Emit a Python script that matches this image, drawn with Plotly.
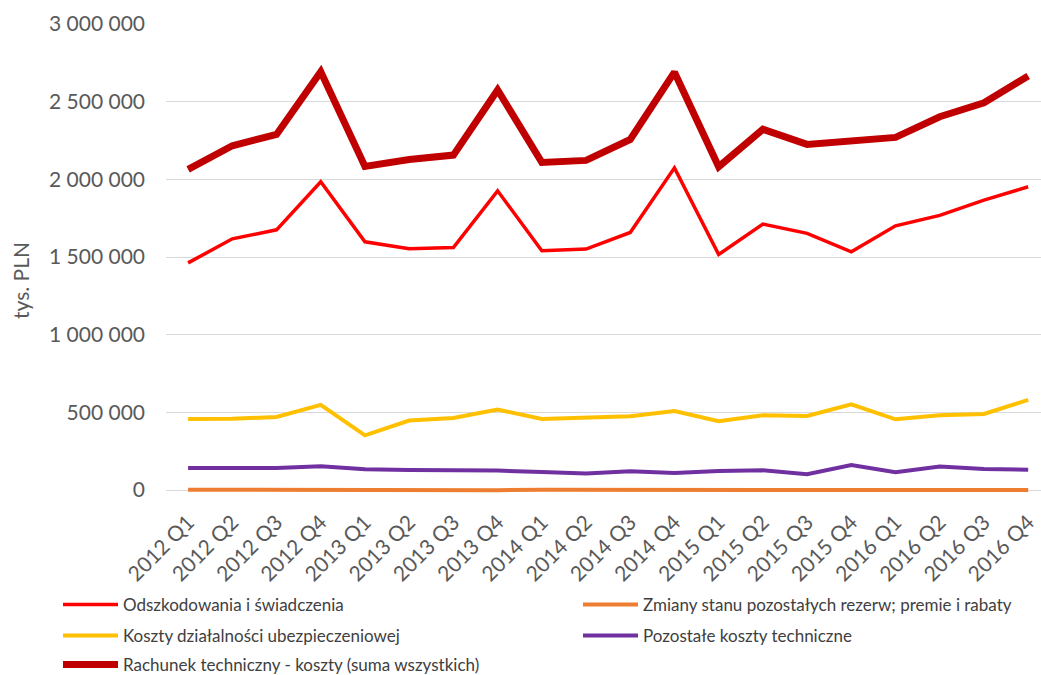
import plotly.graph_objects as go

categories = ["2012 Q1", "2012 Q2", "2012 Q3", "2012 Q4",
              "2013 Q1", "2013 Q2", "2013 Q3", "2013 Q4",
              "2014 Q1", "2014 Q2", "2014 Q3", "2014 Q4",
              "2015 Q1", "2015 Q2", "2015 Q3", "2015 Q4",
              "2016 Q1", "2016 Q2", "2016 Q3", "2016 Q4"]

odszkodowania = [1462000, 1617000, 1675000, 1984000,
                 1598000, 1553000, 1561000, 1926000,
                 1540000, 1551000, 1658000, 2074000,
                 1516000, 1712000, 1652000, 1533000,
                 1701000, 1768000, 1866000, 1952000]

zmiany = [2000, 1000, 1500, 2500,
          1000, 1500, 500, -1000,
          1000, 500, 1500, 1000,
          2000, -500, 500, 2500,
          -500, 1500, 1000, 500]

koszty_dzialalnosci = [457000, 458000, 470000, 548000,
                       352000, 447000, 464000, 518000,
                       457000, 468000, 475000, 509000,
                       443000, 481000, 477000, 552000,
                       455000, 481000, 490000, 580000]

pozostale = [142000, 145000, 142000, 153000,
             133000, 129000, 128000, 125000,
             116000, 106000, 120000, 110000,
             122000, 127000, 101000, 161000,
             114000, 151000, 135000, 131000]

rachunek = [2064000, 2216000, 2289000, 2693000,
            2083000, 2128000, 2156000, 2575000,
            2109000, 2122000, 2257000, 2690000,
            2081000, 2322000, 2225000, 2242000,
            2270000, 2403000, 2493000, 2665000]

# name, values, colour, width, legend id
series = [
    ("Odszkodowania i świadczenia", odszkodowania, "#FF0000", 3.5, "legend"),
    ("Zmiany stanu pozostałych rezerw; premie i rabaty", zmiany, "#ED7D31", 4, "legend2"),
    ("Koszty działalności ubezpieczeniowej", koszty_dzialalnosci, "#FFC000", 4, "legend3"),
    ("Pozostałe koszty techniczne", pozostale, "#7030A0", 4, "legend4"),
    ("Rachunek techniczny - koszty (suma wszystkich)", rachunek, "#C00000", 7, "legend5"),
]

fig = go.Figure()
for name, vals, color, w, lg in series:
    fig.add_trace(go.Scatter(
        x=list(range(len(categories))), y=vals, name=name, mode="lines",
        line=dict(color=color, width=w), hoverinfo="skip", legend=lg))

FONT = "Lato, 'Open Sans', sans-serif"
Y_MAX = 3000000
ZERO_PX, TOP_PX = 490, 24
PER_PX = Y_MAX / (ZERO_PX - TOP_PX)
PAD_PX = 3
PLOT_L, PLOT_R, PLOT_T, PLOT_B = 166, 1041, TOP_PX, ZERO_PX + PAD_PX
PW, PH = PLOT_R - PLOT_L, PLOT_B - PLOT_T


def px_x(x):
    return (x - PLOT_L) / PW


def px_y(y):
    return (PLOT_B - y) / PH


leg_font = dict(size=17, color="#404040", family=FONT)


def leg(x, y):
    return dict(x=px_x(x), y=px_y(y), xanchor="left", yanchor="middle",
                orientation="h", font=leg_font, bgcolor="rgba(0,0,0,0)", itemwidth=55)


fig.update_layout(
    width=1041, height=675,
    margin=dict(l=PLOT_L, r=0, t=PLOT_T, b=675 - PLOT_B, autoexpand=False),
    paper_bgcolor="white", plot_bgcolor="white",
    separators=", ",
    font=dict(family=FONT, color="#595959"),
    showlegend=True,
    legend=leg(58, 605),
    legend2=leg(578, 605),
    legend3=leg(58, 636),
    legend4=leg(578, 636),
    legend5=leg(58, 665),
    xaxis=dict(tickmode="array", tickvals=list(range(len(categories))), ticktext=categories,
               range=[-0.5, 19.29], tickangle=-45, showgrid=False, zeroline=False,
               showline=False, ticks="", ticklabelstandoff=12,
               tickfont=dict(size=21, color="#595959")),
    yaxis=dict(range=[-PAD_PX * PER_PX, Y_MAX], tickvals=[0, 500000, 1000000, 1500000,
                                                          2000000, 2500000, 3000000],
               tickformat=",d",
               showgrid=True, gridcolor="#D9D9D9", gridwidth=1.3, zeroline=False,
               ticks="", ticklen=0, ticklabelstandoff=20,
               tickfont=dict(size=21, color="#595959")),
    annotations=[dict(text="tys. PLN", textangle=-90, xref="paper", yref="paper",
                      x=px_x(21), y=px_y(281), xanchor="center", yanchor="middle",
                      showarrow=False, font=dict(size=21, color="#595959"))],
)

fig.write_html("out.html")
